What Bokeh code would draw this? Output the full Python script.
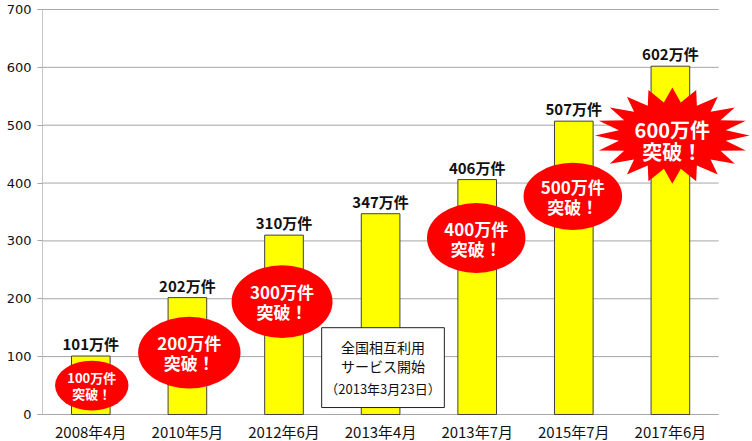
import numpy as np
from bokeh.plotting import figure
from bokeh.models import FixedTicker, Range1d
from bokeh.embed import file_html
from bokeh.resources import INLINE
from bokeh.core.properties import value

# ---- data ----
categories = ["2008年4月", "2010年5月", "2012年6月", "2013年4月", "2013年7月", "2015年7月", "2017年6月"]
counts = [101, 202, 310, 347, 406, 507, 602]
count_labels = ["101万件", "202万件", "310万件", "347万件", "406万件", "507万件", "602万件"]
milestone_labels = ["100万件", "200万件", "300万件", "400万件", "500万件"]
milestone_sub = "突破！"
star_label = "600万件"
note_lines = ["全国相互利用", "サービス開始", "（2013年3月23日）"]
y_ticks = [0, 100, 200, 300, 400, 500, 600, 700]

# ---- layout constants ----
xs = [i + 0.5 for i in range(len(categories))]
n = len(categories)
JP = value("Noto Sans CJK JP")

p = figure(width=752, height=441, output_backend="svg", toolbar_location=None,
           x_range=Range1d(0, 7.35), y_range=Range1d(-46.7, 701.7),
           x_axis_location=None,
           min_border_left=42, min_border_right=0, min_border_top=8, min_border_bottom=0)
p.outline_line_color = None
p.xgrid.visible = False
p.ygrid.visible = False
p.background_fill_color = "white"

# grid lines (stop at the last category)
p.segment(x0=0, x1=n, y0=y_ticks, y1=y_ticks, line_color="#a6a6a6", line_width=1)
# y axis line
p.segment(x0=[0], x1=[0], y0=[0], y1=[700], line_color="#8c8c8c", line_width=1)

# bars
p.vbar(x=xs, top=counts, bottom=0, width=0.4, fill_color="#ffff00",
       line_color="#404040", line_width=1)

# value labels
p.text(x=xs, y=counts, text=count_labels, text_align="center", text_baseline="bottom",
       y_offset=-2, text_font=JP, text_font_style="bold", text_font_size="15px",
       text_color="#111111")

# category labels
p.text(x=xs, y=[0] * n, text=categories, text_align="center", text_baseline="middle",
       y_offset=17, text_font=JP, text_font_size="15px", text_color="#111111")

# milestone ellipses
ell_x = [0.51, 1.52, 2.48, 4.49, 5.49]
ell_y = [50, 107, 195, 305, 377]
ell_w = [0.76, 1.06, 1.045, 1.02, 1.02]
ell_h = [86, 124, 126, 121, 116]
ell_fs = ["13px", "17px", "17px", "17px", "17px"]
ell_off = [8, 10, 10, 10, 10]
p.ellipse(x=ell_x, y=ell_y, width=ell_w, height=ell_h, fill_color="#ff0000", line_color=None)
for i in range(len(milestone_labels)):
    p.text(x=[ell_x[i]], y=[ell_y[i]], text=[milestone_labels[i]], text_align="center",
           text_baseline="middle", y_offset=-ell_off[i], text_font=JP, text_font_style="bold",
           text_font_size=ell_fs[i], text_color="white")
    p.text(x=[ell_x[i]], y=[ell_y[i]], text=[milestone_sub], text_align="center",
           text_baseline="middle", y_offset=ell_off[i], text_font=JP, text_font_style="bold",
           text_font_size=ell_fs[i], text_color="white")

# starburst
sx, sy, rx, ry, spikes, inner = 6.52, 482, 0.80, 83, 20, 0.70
ang = np.linspace(0, 2 * np.pi, 2 * spikes, endpoint=False) + np.pi / 2
rr = np.where(np.arange(2 * spikes) % 2 == 0, 1.0, inner)
p.patch(x=sx + rx * rr * np.cos(ang), y=sy + ry * rr * np.sin(ang),
        fill_color="#ff0000", line_color=None)
p.text(x=[sx], y=[sy], text=[star_label], text_align="center", text_baseline="middle",
       y_offset=-6, text_font=JP, text_font_style="bold", text_font_size="20px", text_color="white")
p.text(x=[sx], y=[sy], text=[milestone_sub], text_align="center", text_baseline="middle",
       y_offset=16, text_font=JP, text_font_style="bold", text_font_size="20px", text_color="white")

# note box
p.quad(left=[2.89], right=[4.16], bottom=[12], top=[150], fill_color="white",
       line_color="#222222", line_width=1)
note_y = [116, 83, 45]
note_fs = ["14px", "14px", "13px"]
for t, yy, fs in zip(note_lines, note_y, note_fs):
    p.text(x=[3.525], y=[yy], text=[t], text_align="center", text_baseline="middle",
           text_font=JP, text_font_size=fs, text_color="#111111")

# y axis
p.yaxis.ticker = FixedTicker(ticks=y_ticks)
p.yaxis.axis_line_color = None
p.yaxis.major_tick_line_color = "#a6a6a6"
p.yaxis.major_tick_out = 5
p.yaxis.major_tick_in = 0
p.yaxis.minor_tick_line_color = None
p.yaxis.major_label_standoff = 6
p.yaxis.major_label_text_font = "DejaVu Sans"
p.yaxis.major_label_text_font_size = "13px"
p.yaxis.major_label_text_color = "#111111"

open("out.html", "w").write(file_html(p, INLINE))
